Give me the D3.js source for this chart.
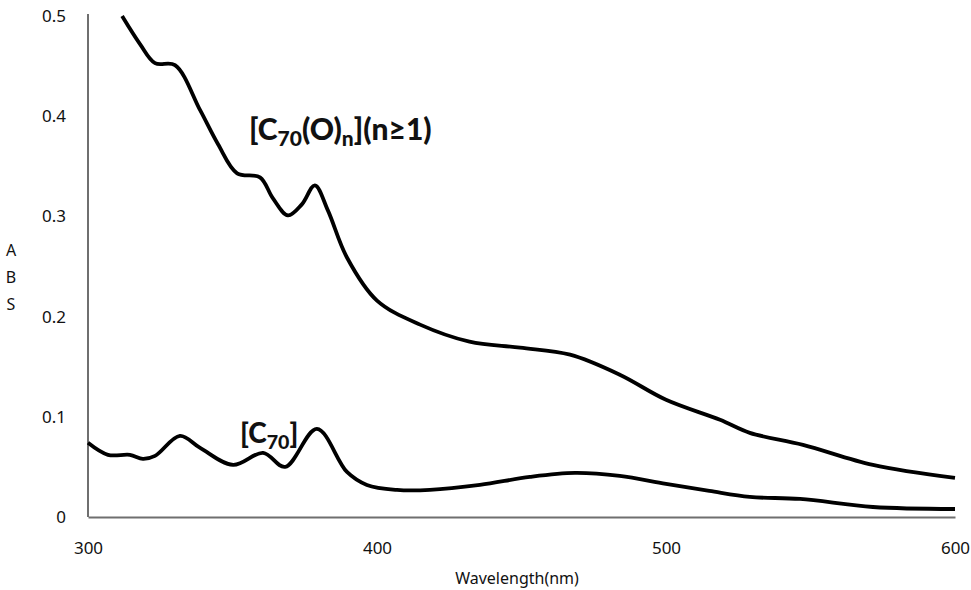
<html>
<head>
<meta charset="utf-8">
<script src="https://cdnjs.cloudflare.com/ajax/libs/d3/7.8.5/d3.min.js"></script>
<style>
  body { margin: 0; background: #fff; }
  svg text { font-family: "Noto Sans", "Open Sans", sans-serif; }
</style>
</head>
<body>
<div id="chart"></div>
<script>

// wavelength (nm) of the sampled points, oxide curve
var oxWave = [311.8, 318, 323.2, 330.1, 338.8, 345, 351.6, 359.5, 364, 369.2, 374, 378.5, 383, 389.6, 400, 414.9, 432, 449.5, 466.8, 484, 500, 518.7, 529, 547.4, 571.6, 600];
var oxAbs  = [0.500, 0.472, 0.453, 0.451, 0.406, 0.372, 0.343, 0.339, 0.318, 0.301, 0.312, 0.331, 0.306, 0.259, 0.216, 0.192, 0.175, 0.169, 0.162, 0.142, 0.117, 0.097, 0.084, 0.072, 0.052, 0.039];

// pristine C70 curve
var c70Wave = [300, 306.9, 314.5, 319, 323.2, 331.8, 338.8, 350.2, 360.6, 368.2, 379.2, 389.6, 396.5, 406.9, 418.3, 435.6, 452.9, 468.5, 484, 500, 515, 529, 546.4, 571.6, 600];
var c70Abs  = [0.074, 0.062, 0.062, 0.058, 0.061, 0.081, 0.069, 0.052, 0.064, 0.050, 0.088, 0.045, 0.032, 0.027, 0.027, 0.032, 0.040, 0.044, 0.041, 0.033, 0.026, 0.020, 0.018, 0.010, 0.008];

var xTicks = [300, 400, 500, 600];
var yTicks = [0, 0.1, 0.2, 0.3, 0.4, 0.5];

var W = 971, H = 590;
var svg = d3.select("#chart").append("svg").attr("width", W).attr("height", H);

var x = d3.scaleLinear().domain([300, 600]).range([88, 955]);
var y = d3.scaleLinear().domain([0, 0.5]).range([517, 16]);

// axes
var xAxis = svg.append("g").attr("transform", "translate(0,517)")
  .call(d3.axisBottom(x).tickValues(xTicks).tickSize(0).tickPadding(25).tickFormat(d3.format("d")));
var yAxis = svg.append("g").attr("transform", "translate(88,0)")
  .call(d3.axisLeft(y).tickValues(yTicks).tickSize(0).tickPadding(22).tickFormat(function(d){ return d === 0 ? "0" : d3.format(".1f")(d); }));

[xAxis, yAxis].forEach(function(a){
  a.select(".domain").attr("stroke", "#6f6f6f").attr("stroke-width", 2);
  a.selectAll("text").attr("fill", "#111").style("font-size", "17px").style("font-family", "'Noto Sans', sans-serif");
});
yAxis.select(".domain").attr("d", "M0,517V14");

// axis titles
svg.append("text").attr("x", 517).attr("y", 584).attr("text-anchor", "middle")
  .attr("fill", "#111").style("font-size", "16px").text("Wavelength(nm)");
["A", "B", "S"].forEach(function(c, i){
  svg.append("text").attr("x", 11).attr("y", 256 + i * 27).attr("text-anchor", "middle")
    .attr("fill", "#111").style("font-size", "16px").text(c);
});

// curves
var line = d3.line()
  .x(function(d){ return x(d[0]); })
  .y(function(d){ return y(d[1]); })
  .curve(d3.curveCatmullRom.alpha(0.5));

var ox = d3.zip(oxWave, oxAbs);
var c70 = d3.zip(c70Wave, c70Abs);

svg.selectAll("path.curve").data([ox, c70]).enter().append("path")
  .attr("class", "curve")
  .attr("d", line)
  .attr("fill", "none")
  .attr("stroke", "#000")
  .attr("stroke-width", 3.8)
  .attr("stroke-linejoin", "round");

// labels
function label(xp, yp, parts, size){
  var t = svg.append("text").attr("x", xp).attr("y", yp)
    .style("font-family", "Lato, 'Open Sans', sans-serif")
    .style("font-weight", "900").style("font-size", size + "px").attr("fill", "#111");
  parts.forEach(function(p){
    var s = t.append("tspan").text(p[0]);
    if (p[1]) s.style("font-size", (size * 0.7) + "px").attr("dy", 6);
    else if (p[2]) s.attr("dy", -6);
  });
  return t;
}
label(249, 140, [["[C"], ["70", true], ["(O)", false, true], ["n", true], ["](n≥1)", false, true]], 30);
label(240, 443, [["[C"], ["70", true], ["]", false, true]], 28);

</script>
</body>
</html>
